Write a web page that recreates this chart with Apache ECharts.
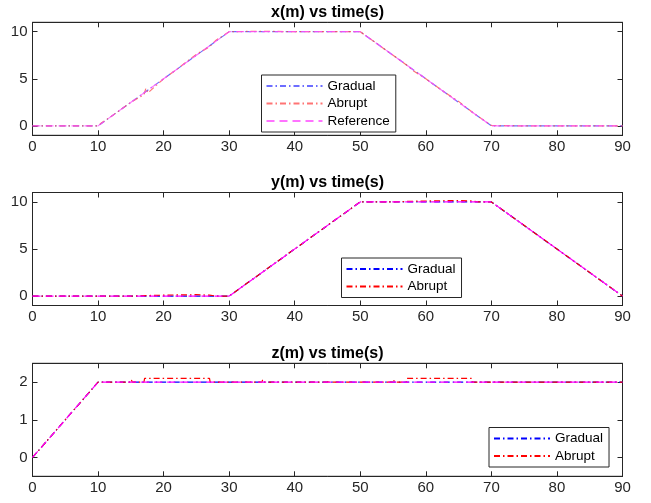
<!DOCTYPE html>
<html>
<head>
<meta charset="utf-8">
<script src="https://cdn.jsdelivr.net/npm/echarts@6/dist/echarts.min.js"></script>
<style>html,body{margin:0;padding:0;background:#fff;}#c{width:651px;height:503px;}</style>
</head>
<body>
<div id="c"></div>
<script>
// ---- data ----
const titles = ['x(m) vs time(s)', 'y(m) vs time(s)', 'z(m) vs time(s)'];
const timeTicks = [0,10,20,30,40,50,60,70,80,90];
const posTicks = [0,5,10];
const zTicks = [0,1,2];

// x subplot
const xRefT = [0,10,30,50,70,90];
const xRefV = [0,0,10,10,0,0];
const xGradT = [0,10,15,20,25,30,40,50,55,60,65,70,80,90];
const xGradV = [0,0,2.5,5,7.5,10,10,10,7.5,5,2.5,0,0,0];
const xAbrT = [0,5,10,10.5,12,15,17,17.3,17.6,20,22,25,27,28,30,35,35.3,40,45,45.3,50,52,55,57,58,58.3,60,63,65,67,68,70,75,80,85,90];
const xAbrV = [0,0,0,0.3,1.0,2.5,3.3,4.0,3.5,5.0,6.0,7.6,8.4,9.1,10,10.05,10.1,10,10,10.1,10,9.0,7.5,6.5,5.9,6.1,5.0,3.5,2.6,1.5,1.0,0.05,0,0,0,0];

// y subplot
const yRefT = [0,30,50,70,90];
const yRefV = [0,0,10,10,0];
const yGradT = [0,30,40,50,60,70,80,90];
const yGradV = [0,0,5,10,10,10,5,0];
const yAbrT = [0,15,17,17.3,20,25,27,28,30,40,50,55,57,57.3,60,65,67,68,70,80,90];
const yAbrV = [0,0,0.05,0.2,0.1,0.15,0.1,0,0,5,10,10,10.05,10.2,10.1,10.15,10.1,10,10,5,0];

// z subplot
const zRefT = [0,10,90];
const zRefV = [0,2,2];
const zGradT = [0,5,10,50,90];
const zGradV = [0,1,2,2,2];
const zAbrT = [0,5,5.2,10,15,15.1,15.2,17,17.1,25,25.2,27,27.1,35,35.1,35.2,45,45.1,45.2,55,55.1,55.2,57,57.1,65,65.2,67,67.1,75,75.1,75.2,85,85.1,85.2,90];
const zAbrV = [0,1,1.05,2,2,2.06,2,2,2.1,2.1,2.15,2.1,2,2,2.06,2,2,2.06,2,2,2.06,2,2,2.1,2.1,2.15,2.1,2,2,2.05,2,2,2.05,2,2];

// ---- build ----
const zip = (t, v) => t.map((x, i) => [x, v[i]]);
const FONT = 'Liberation Sans';
const TXT = '#262626';
const gridTops = [22.3, 192.5, 363.3];
const gridH = 113;
const yRanges = [[-1, 11], [-1, 11], [-0.5, 2.5]];
const yTickSets = [posTicks, posTicks, zTicks];
const dashDot = [6, 3, 1.5, 3];
const dashed = [8, 5];

const grids = [], xAxes = [], yAxes = [], titleArr = [], series = [], legends = [];

for (let g = 0; g < 3; g++) {
  grids.push({ left: 32.5, width: 590, top: gridTops[g], height: gridH, show: true, borderColor: TXT, borderWidth: 1, backgroundColor: '#fff' });
  titleArr.push({ text: titles[g], left: 327.5, textAlign: 'center', top: gridTops[g] - 18, padding: 0,
    textStyle: { fontFamily: FONT, fontSize: 16, fontWeight: 'bold', color: '#000' } });
  ['bottom', 'top'].forEach((pos, k) => {
    xAxes.push({ type: 'value', gridIndex: g, position: pos, min: 0, max: 90, interval: 10,
      axisLine: { show: true, onZero: false, lineStyle: { color: TXT, width: 1 } },
      axisTick: { show: true, inside: true, length: 5, lineStyle: { color: TXT } },
      axisLabel: { show: k === 0, fontFamily: FONT, fontSize: 15, color: TXT, margin: 4,
        customValues: timeTicks },
      splitLine: { show: false } });
  });
  ['left', 'right'].forEach((pos, k) => {
    yAxes.push({ type: 'value', gridIndex: g, position: pos, min: yRanges[g][0], max: yRanges[g][1],
      axisLine: { show: true, onZero: false, lineStyle: { color: TXT, width: 1 } },
      axisTick: { show: true, inside: true, length: 5, lineStyle: { color: TXT }, customValues: yTickSets[g] },
      axisLabel: { show: k === 0, fontFamily: FONT, fontSize: 15, color: TXT, margin: 5, customValues: yTickSets[g] },
      splitLine: { show: false } });
  });
}

const sets = [
  [zip(xGradT, xGradV), zip(xAbrT, xAbrV), zip(xRefT, xRefV)],
  [zip(yGradT, yGradV), zip(yAbrT, yAbrV), zip(yRefT, yRefV)],
  [zip(zGradT, zGradV), zip(zAbrT, zAbrV), zip(zRefT, zRefV)]
];
const colorSets = [
  ['rgba(60,60,255,0.75)', 'rgba(255,70,70,0.75)', 'rgba(255,80,255,0.8)'],
  ['#0000ff', '#ff0000', '#ff00ff'],
  ['#0000ff', '#ff0000', '#ff00ff']
];
const names = ['Gradual', 'Abrupt', 'Reference'];
const legendPos = [[261.5, 75], [341.5, 258], [489, 427.5]];

for (let g = 0; g < 3; g++) {
  const legendData = [];
  for (let s = 0; s < 3; s++) {
    const nm = names[s] + '#' + g;
    series.push({ type: 'line', name: nm, xAxisIndex: g * 2, yAxisIndex: g * 2, data: sets[g][s],
      symbol: 'none', animation: false, silent: true,
      lineStyle: { color: colorSets[g][s], width: 1.2, type: s === 2 ? dashed : dashDot },
      itemStyle: { color: colorSets[g][s] } });
    if (g === 0 || s < 2) legendData.push(nm);
  }
  legends.push({ data: legendData, orient: 'vertical', left: legendPos[g][0], top: legendPos[g][1],
    backgroundColor: '#fff', borderColor: TXT, borderWidth: 1, padding: [4, 6, 4, 4],
    itemWidth: 56, itemHeight: 14, itemGap: 3.5, selectedMode: false,
    itemStyle: { opacity: 0 },
    textStyle: { fontFamily: FONT, fontSize: 13.5, color: '#000' },
    formatter: n => n.split('#')[0] });
}

const chart = echarts.init(document.getElementById('c'), null, { renderer: 'canvas' });
chart.setOption({
  animation: false,
  backgroundColor: '#fff',
  title: titleArr,
  grid: grids,
  xAxis: xAxes,
  yAxis: yAxes,
  legend: legends,
  series: series
});
</script>
</body>
</html>
